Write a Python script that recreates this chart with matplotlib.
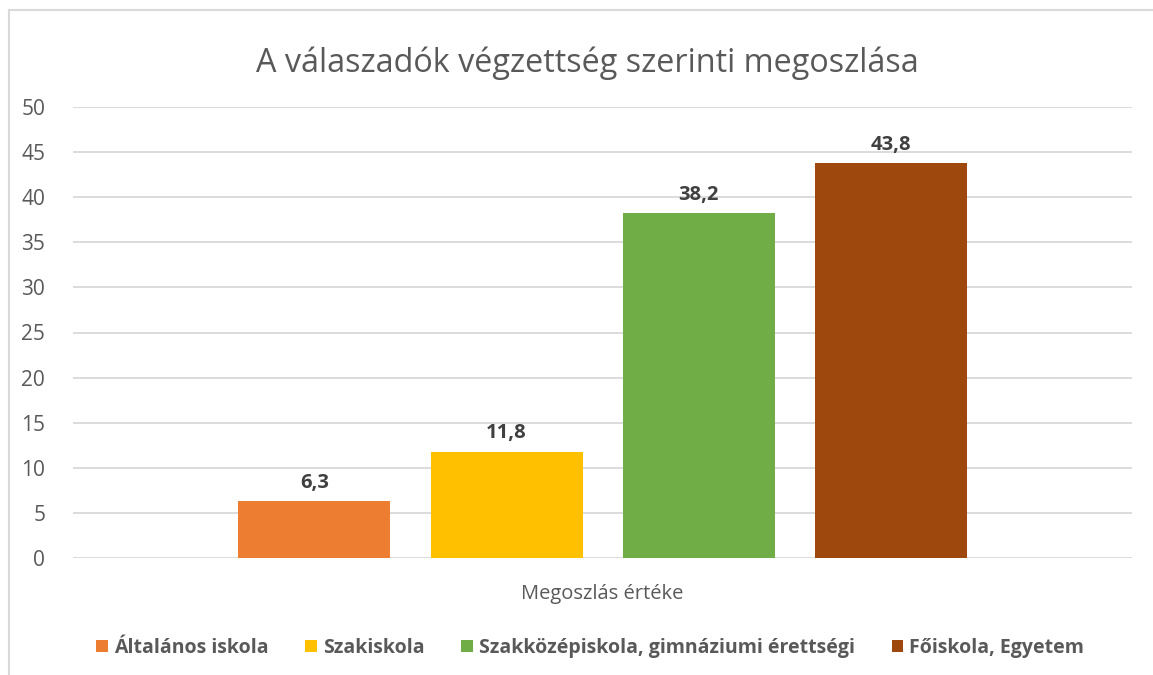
import matplotlib.pyplot as plt
from matplotlib.patches import Rectangle

# Data
categories = ['Általános iskola', 'Szakiskola',
              'Szakközépiskola, gimnáziumi érettségi', 'Főiskola, Egyetem']
values = [6.3, 11.8, 38.2, 43.8]
labels = ['6,3', '11,8', '38,2', '43,8']
colors = ['#ED7D31', '#FFC000', '#70AD47', '#9E480E']
yticks = [0, 5, 10, 15, 20, 25, 30, 35, 40, 45, 50]

plt.rcParams['font.family'] = ['Open Sans', 'DejaVu Sans']
txt = '#595959'

W, H = 1153, 675
fig = plt.figure(figsize=(W / 100, H / 100), dpi=100)
# plot area in pixels: x 73..1132, y 107..558
ax = fig.add_axes([73 / W, 1 - 558 / H, (1132 - 73) / W, (558 - 107) / H])

width = 152 / 1059
step = 192 / 1059
for i, (c, v, lab, col) in enumerate(zip(categories, values, labels, colors)):
    x = (i - 1.5) * step
    ax.bar(x, v, width=width, color=col, label=c, zorder=3)
    ax.annotate(lab, (x, v), xytext=(0, 6), textcoords='offset points',
                ha='center', va='bottom', fontsize=14.5, fontweight='bold', color='#404040')

ax.set_xlim(-0.5, 0.5)
ax.set_ylim(0, 50)
ax.set_yticks(yticks)
ax.set_yticklabels([str(t) for t in yticks], fontsize=15, color=txt)
ax.set_xticks([])
ax.grid(axis='y', color='#D9D9D9', linewidth=1.3, zorder=0)
ax.tick_params(axis='y', length=0, pad=20)
for s in ax.spines.values():
    s.set_visible(False)

ax.set_xlabel('Megoszlás értéke', fontsize=14.5, color=txt, labelpad=19)
fig.text(587 / W, 1 - 63 / H, 'A válaszadók végzettség szerinti megoszlása',
         ha='center', va='center', fontsize=23.3, color=txt)

leg = fig.legend(loc='center', bbox_to_anchor=(590 / W, 1 - 648 / H), ncol=4,
                 frameon=False, handlelength=0.6, handleheight=0.6,
                 handletextpad=0.3, columnspacing=1.9,
                 prop={'size': 14, 'weight': 'bold'})
for t in leg.get_texts():
    t.set_color(txt)

# chart frame
fig.patches.append(Rectangle((8.5 / W, -0.05), 1.1, 1 - 9.5 / H + 0.05,
                             transform=fig.transFigure, fill=False,
                             edgecolor='#D9D9D9', linewidth=1.5))

fig.savefig('out.png', dpi=100)
